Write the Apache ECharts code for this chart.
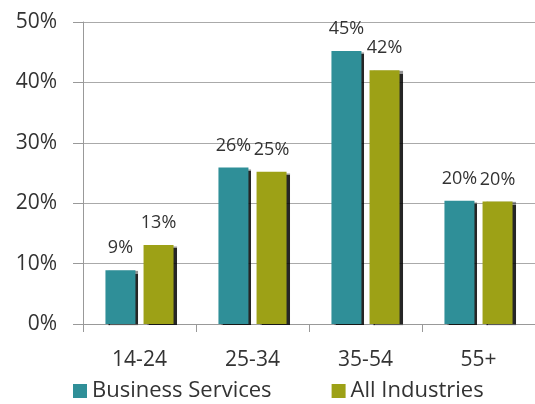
<!DOCTYPE html>
<html>
<head>
<meta charset="utf-8">
<script src="https://cdn.jsdelivr.net/npm/echarts@6/dist/echarts.min.js"></script>
<style>
  html, body { margin: 0; padding: 0; background: #fff; }
</style>
</head>
<body>
<div id="chart" style="width:535px;height:404px"></div>
<script>
// age groups and shares (%)
var categories = ['14-24', '25-34', '35-54', '55+']
var businessServices = [8.9, 25.9, 45.2, 20.4]
var allIndustries = [13.1, 25.2, 42.0, 20.3]
var seriesNames = ['Business Services', 'All Industries']

var colors = ['#2f8f98', '#9da116']
var font = 'Open Sans'

var myChart = echarts.init(document.getElementById('chart'))

function barSeries (name, data) {
  return {
    name: name,
    type: 'bar',
    data: data,
    barWidth: 30,
    barGap: '27%',
    itemStyle: {
      shadowColor: 'rgba(0,0,0,0.85)',
      shadowBlur: 1,
      shadowOffsetX: 3,
      shadowOffsetY: 1
    },
    label: {
      show: true,
      position: 'top',
      distance: 13,
      color: '#333',
      fontFamily: font,
      fontSize: 18,
      formatter: function (p) { return Math.round(p.value) + '%' }
    }
  }
}

var option = {
  color: colors,
  animation: false,
  grid: {
    left: 83,
    right: 0,
    top: 22,
    bottom: 80
  },
  legend: {
    data: seriesNames,
    bottom: -3,
    left: 68,
    itemWidth: 14,
    itemHeight: 14,
    itemGap: 60,
    icon: 'rect',
    textStyle: {
      color: '#333',
      fontFamily: font,
      fontSize: 22
    }
  },
  xAxis: {
    type: 'category',
    data: categories,
    axisLine: { lineStyle: { color: '#999' } },
    axisTick: { show: true, length: 8, lineStyle: { color: '#999' } },
    axisLabel: {
      color: '#333',
      fontFamily: font,
      fontSize: 21,
      margin: 26
    }
  },
  yAxis: {
    type: 'value',
    min: 0,
    max: 50,
    interval: 10,
    axisLine: { show: true, lineStyle: { color: '#999' } },
    axisTick: { show: true, length: 10, lineStyle: { color: '#999' } },
    splitLine: { lineStyle: { color: '#aaa' } },
    axisLabel: {
      color: '#333',
      fontFamily: font,
      fontSize: 21,
      margin: 26,
      formatter: '{value}%'
    }
  },
  series: [
    barSeries(seriesNames[0], businessServices),
    barSeries(seriesNames[1], allIndustries)
  ]
}

myChart.setOption(option)
</script>
</body>
</html>
